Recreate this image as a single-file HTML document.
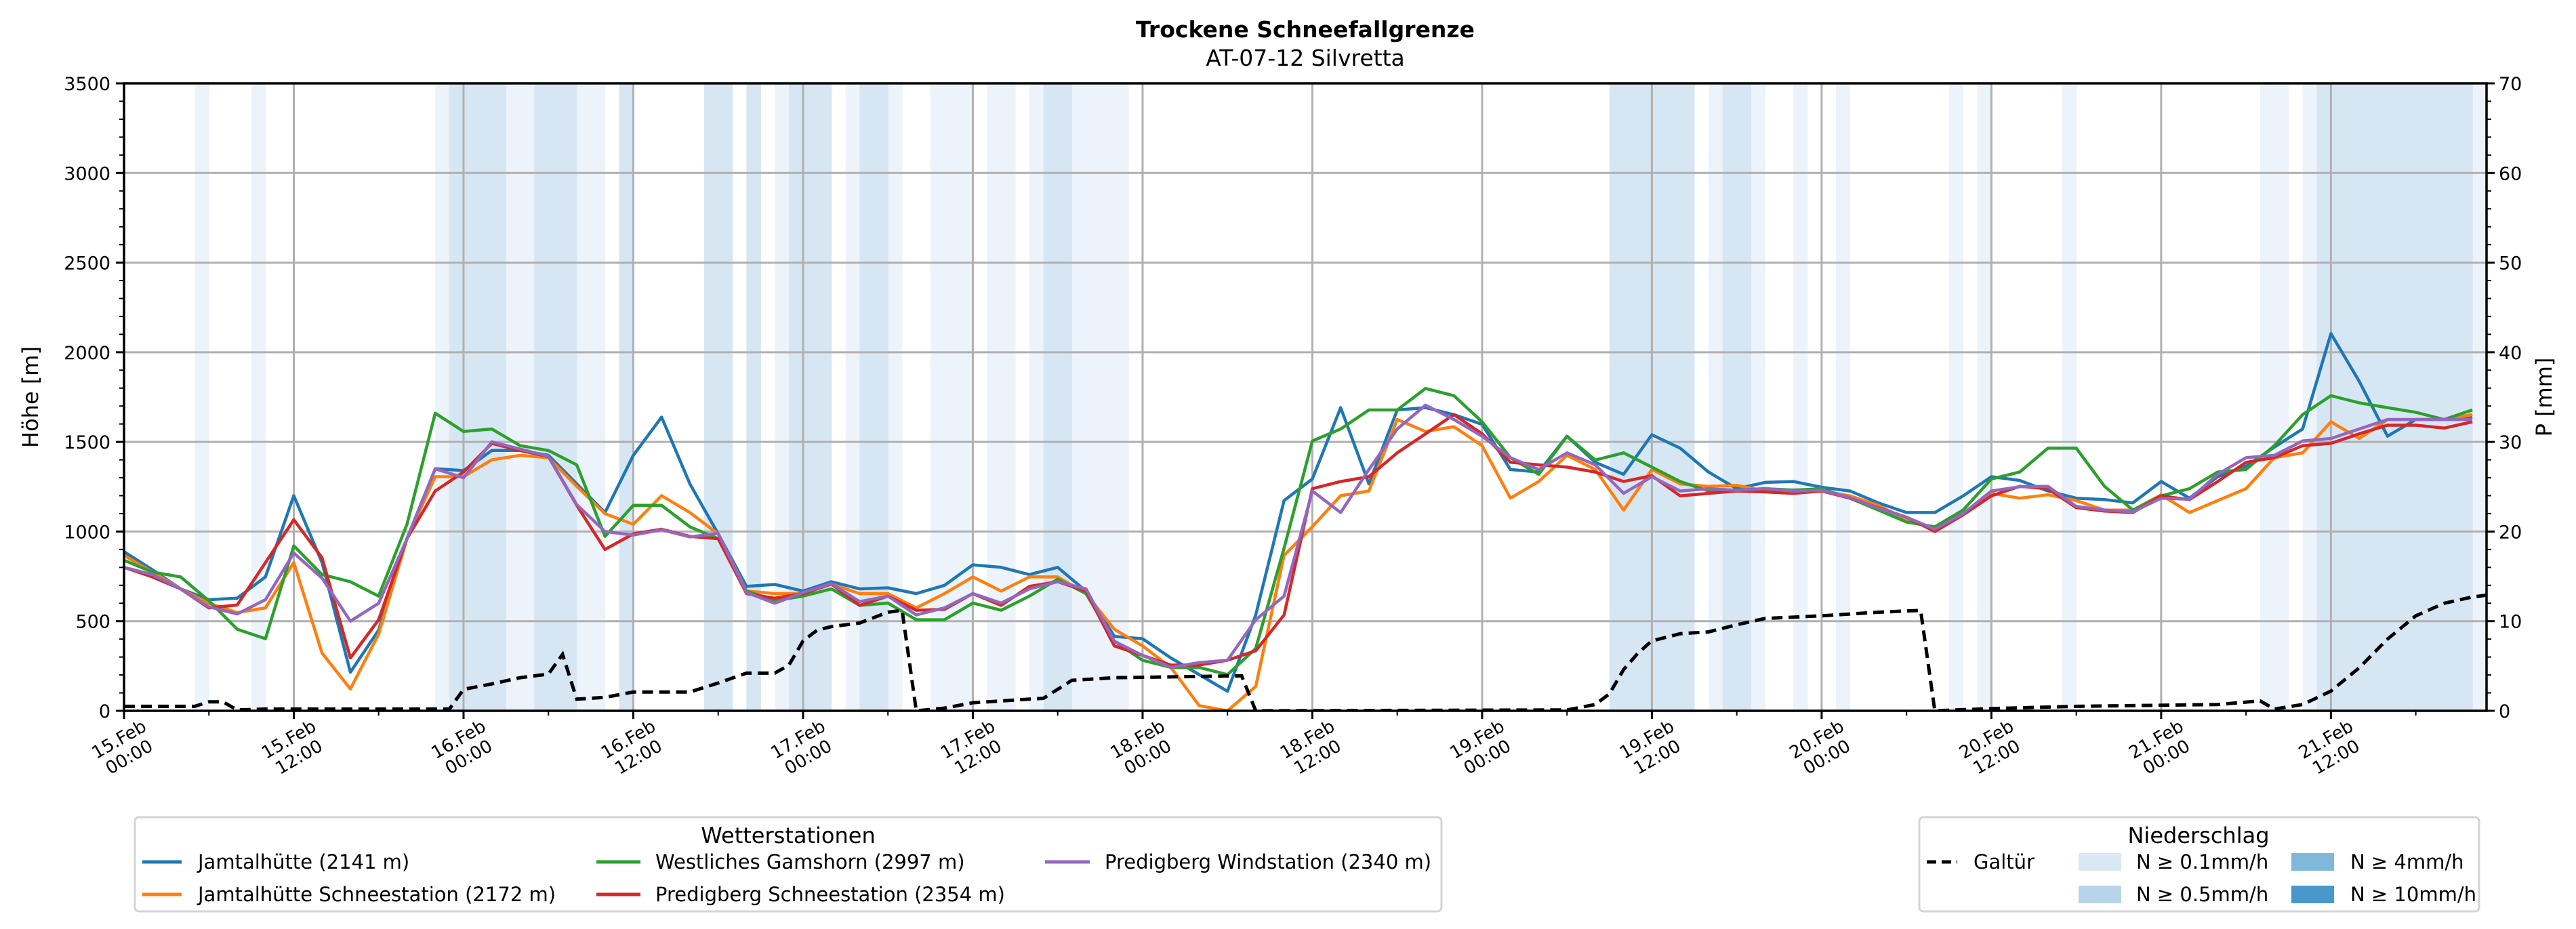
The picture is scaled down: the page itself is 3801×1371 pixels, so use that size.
<!DOCTYPE html>
<html><head><meta charset="utf-8">
<style>
html,body{margin:0;padding:0;background:#fff;}
svg{display:block;font-family:"DejaVu Sans","Liberation Sans",sans-serif;}
</style></head>
<body>
<svg id="chart" width="3801" height="1371" viewBox="0 0 3801 1371" xmlns="http://www.w3.org/2000/svg">
<text x="1926" y="55" text-anchor="middle" font-size="33" font-weight="bold">Trockene Schneefallgrenze</text>
<text x="1926" y="97" text-anchor="middle" font-size="33">AT-07-12 Silvretta</text>
<g id="bands"></g>
<g id="grid"></g>
<g id="series"></g>
<g id="axes"></g>
<text transform="translate(56,586) rotate(-90)" text-anchor="middle" font-size="32">Höhe [m]</text>
<text transform="translate(3765,586) rotate(-90)" text-anchor="middle" font-size="32">P [mm]</text>

<g>
<rect x="199" y="1206" width="1928" height="139" rx="6" fill="#fff" stroke="#d4d4d4" stroke-width="3"/>
<text x="1163" y="1244" text-anchor="middle" font-size="32">Wetterstationen</text>
<g><line x1="210" y1="1272" x2="268" y2="1272" stroke="#1f77b4" stroke-width="5"/><text x="292" y="1282" font-size="29">Jamtalhütte (2141 m)</text></g>
<g><line x1="210" y1="1320" x2="268" y2="1320" stroke="#ff7f0e" stroke-width="5"/><text x="292" y="1330" font-size="29">Jamtalhütte Schneestation (2172 m)</text></g>
<g><line x1="880" y1="1272" x2="945" y2="1272" stroke="#2ca02c" stroke-width="5"/><text x="967" y="1282" font-size="29">Westliches Gamshorn (2997 m)</text></g>
<g><line x1="880" y1="1320" x2="945" y2="1320" stroke="#d62728" stroke-width="5"/><text x="967" y="1330" font-size="29">Predigberg Schneestation (2354 m)</text></g>
<g><line x1="1542" y1="1272" x2="1608" y2="1272" stroke="#9467bd" stroke-width="5"/><text x="1630" y="1282" font-size="29">Predigberg Windstation (2340 m)</text></g>
</g>

<g>
<rect x="2832" y="1206" width="826" height="139" rx="6" fill="#fff" stroke="#d4d4d4" stroke-width="3"/>
<text x="3244" y="1244" text-anchor="middle" font-size="32">Niederschlag</text>
<g><line x1="2843" y1="1272" x2="2888" y2="1272" stroke="#000" stroke-width="5" stroke-dasharray="14,8"/><text x="2912" y="1282" font-size="29">Galtür</text></g>
<g><rect x="3067" y="1259" width="63" height="26" fill="#d9e8f5"/><text x="3152" y="1282" font-size="29">N ≥ 0.1mm/h</text></g>
<g><rect x="3067" y="1307" width="63" height="26" fill="#b8d4ea"/><text x="3152" y="1330" font-size="29">N ≥ 0.5mm/h</text></g>
<g><rect x="3381" y="1259" width="63" height="26" fill="#80b8da"/><text x="3468" y="1282" font-size="29">N ≥ 4mm/h</text></g>
<g><rect x="3381" y="1307" width="63" height="26" fill="#4a98c9"/><text x="3468" y="1330" font-size="29">N ≥ 10mm/h</text></g>
</g>
</svg>
<script>
const hours = [0,2,4,6,8,10,12,14,16,18,20,22,24,26,28,30,32,34,36,38,40,42,44,46,48,50,52,54,56,58,60,62,64,66,68,70,72,74,76,78,80,82,84,86,88,90,92,94,96,98,100,102,104,106,108,110,112,114,116,118,120,122,124,126,128,130,132,134,136,138,140,142,144,146,148,150,152,154,156,158,160,162,164,166];
const jamtal = [888,787,680,620,628,747,1200,827,215,450,960,1351,1340,1452,1452,1425,1266,1106,1425,1638,1266,987,694,705,668,720,680,686,654,700,814,800,760,800,668,415,402,295,202,109,535,1173,1293,1691,1266,1678,1691,1652,1598,1346,1332,1532,1386,1319,1540,1465,1332,1239,1274,1279,1247,1226,1160,1106,1106,1199,1306,1285,1226,1186,1178,1160,1279,1186,1306,1364,1471,1572,2104,1838,1532,1625,1625,1638];
const jamtalSchnee = [867,774,680,600,548,574,827,322,122,428,960,1306,1306,1400,1425,1412,1252,1100,1040,1200,1106,987,668,654,654,707,654,654,574,654,747,668,747,747,654,455,362,242,29,0,136,867,1027,1200,1226,1625,1558,1585,1479,1186,1279,1425,1346,1120,1346,1266,1252,1258,1226,1213,1226,1199,1146,1066,1013,1093,1213,1186,1205,1173,1120,1120,1205,1106,1173,1239,1412,1439,1612,1519,1625,1625,1625,1652];
const gamshorn = [840,774,747,614,455,402,920,760,720,640,1040,1660,1558,1572,1479,1452,1372,973,1146,1146,1026,960,668,614,640,680,588,601,508,508,601,561,640,734,654,388,282,242,242,202,348,907,1505,1572,1678,1678,1798,1758,1612,1412,1319,1532,1399,1439,1359,1279,1226,1231,1239,1231,1239,1186,1120,1053,1026,1120,1293,1332,1465,1465,1252,1120,1199,1239,1332,1346,1479,1652,1758,1718,1691,1665,1625,1678];
const predigSchnee = [800,747,680,574,590,827,1066,853,295,508,960,1226,1332,1492,1452,1418,1146,900,987,1013,973,960,654,628,654,707,588,640,561,566,654,588,694,720,668,362,309,255,255,282,335,535,1239,1279,1306,1439,1545,1652,1545,1386,1372,1359,1332,1279,1311,1199,1213,1226,1221,1213,1226,1186,1133,1080,1000,1093,1199,1252,1239,1133,1114,1106,1199,1178,1279,1386,1412,1479,1492,1545,1593,1593,1577,1612];
const predigWind = [800,760,680,580,540,620,880,740,500,600,960,1350,1300,1500,1460,1420,1150,1000,980,1010,970,990,660,600,660,710,609,640,535,574,654,601,680,720,680,388,309,242,269,282,508,640,1226,1106,1346,1572,1705,1625,1532,1412,1346,1439,1372,1213,1306,1226,1239,1230,1240,1225,1230,1190,1130,1080,1013,1100,1226,1250,1252,1140,1120,1110,1186,1180,1319,1412,1425,1505,1519,1572,1625,1625,1625,1625];
const galtuerHours = [0,5,6,7,8,10,23,24,26,28,30,31,32,34,36,40,42,44,46,47,48,49,50,52,54,55,56,58,60,64,65,67,70,79,80,102,104,105,106,107,108,110,112,114,116,120,124,127,128,132,138,148,151,152,154,156,158,160,162,164,166,167];
const galtuerMm = [0.5,0.5,1.0,1.0,0.1,0.2,0.2,2.4,3.0,3.7,4.1,6.3,1.3,1.5,2.1,2.1,3.1,4.2,4.2,5.1,7.8,9.0,9.4,9.8,11.0,11.2,0,0.3,0.9,1.3,1.4,3.4,3.7,3.9,0,0.1,0.7,1.9,4.6,6.4,7.8,8.6,8.8,9.6,10.3,10.6,11.0,11.2,0,0.25,0.5,0.7,1.1,0.2,0.7,2.2,4.8,8.0,10.6,12.0,12.7,12.9];
const lightHours = [5,9,22,27,28,32,33,46,51,54,57,58,59,61,62,64,67,68,69,70,112,115,118,121,129,131,137,151,152,154,166];
const mediumHours = [23,24,25,26,29,30,31,35,41,42,44,47,48,49,52,53,65,66,105,106,107,108,109,110,113,114,155,156,157,158,159,160,161,162,163,164,165];
const yTicks = [0,500,1000,1500,2000,2500,3000,3500];
const y2Ticks = [0,10,20,30,40,50,60,70];
const xTickDays = ["15.Feb","15.Feb","16.Feb","16.Feb","17.Feb","17.Feb","18.Feb","18.Feb","19.Feb","19.Feb","20.Feb","20.Feb","21.Feb","21.Feb"];
const xTickTimes = ["00:00","12:00","00:00","12:00","00:00","12:00","00:00","12:00","00:00","12:00","00:00","12:00","00:00","12:00"];

const L=183,R=3669,T=123,B=1049,HMAX=167,YMAX=3500,PMAX=70;
const X=h=>L+(h/HMAX)*(R-L);
const Y=v=>B-(v/YMAX)*(B-T);
const Y2=p=>B-(p/PMAX)*(B-T);
const NS="http://www.w3.org/2000/svg";
function mk(tag,attrs,parent){const e=document.createElementNS(NS,tag);for(const k in attrs)e.setAttribute(k,attrs[k]);parent.appendChild(e);return e;}
const bands=document.getElementById('bands'),grid=document.getElementById('grid'),series=document.getElementById('series'),axes=document.getElementById('axes');
const hw=X(1)-X(0);
lightHours.forEach(h=>{const r=mk('rect',{x:X(h),y:T,width:hw+0.5,height:B-T,fill:'#edf3fa'},bands);

});
mediumHours.forEach(h=>{const r=mk('rect',{x:X(h),y:T,width:hw+0.5,height:B-T,fill:'#d7e6f3'},bands);

});
yTicks.forEach(v=>{const l=mk('line',{x1:L,x2:R,y1:Y(v),y2:Y(v),stroke:'#b0b0b0','stroke-width':3},grid);

});
xTickDays.forEach((d,i)=>{const x=X(i*12);const l=mk('line',{x1:x,x2:x,y1:T,y2:B,stroke:'#b0b0b0','stroke-width':3},grid);

});
function path(xs,ys,fy){return xs.map((h,i)=>(i?'L':'M')+X(h).toFixed(1)+','+fy(ys[i]).toFixed(1)).join(' ');}
const clip=mk('clipPath',{id:'pc'},series);mk('rect',{x:L,y:T,width:R-L,height:B-T},clip);
const defs=[[jamtal,'#1f77b4','jamtalhuette-line'],[jamtalSchnee,'#ff7f0e','jamtalhuette-schnee-line'],[gamshorn,'#2ca02c','gamshorn-line'],[predigSchnee,'#d62728','predigberg-schnee-line'],[predigWind,'#9467bd','predigberg-wind-line']];
defs.forEach(([d,c,n])=>{const p=mk('path',{d:path(hours,d,Y),fill:'none',stroke:c,'stroke-width':4.5,'stroke-linejoin':'round','clip-path':'url(#pc)'},series);

});
const gp=mk('path',{d:path(galtuerHours,galtuerMm,Y2),fill:'none',stroke:'#000','stroke-width':5,'stroke-dasharray':'16,9','clip-path':'url(#pc)'},series);


mk('rect',{x:L,y:T,width:R-L,height:B-T,fill:'none',stroke:'#000','stroke-width':3.5},axes);
for(let v=0;v<=YMAX;v+=100){const maj=v%500===0;mk('line',{x1:L,x2:L-(maj?12:7),y1:Y(v),y2:Y(v),stroke:'#000','stroke-width':maj?3:2},axes);}
for(let p=0;p<=PMAX;p+=2){const maj=p%10===0;mk('line',{x1:R,x2:R+(maj?12:7),y1:Y2(p),y2:Y2(p),stroke:'#000','stroke-width':maj?3:2},axes);}
for(let h=0;h<=HMAX;h+=6){const maj=h%12===0;mk('line',{x1:X(h),x2:X(h),y1:B,y2:B+(maj?12:7),stroke:'#000','stroke-width':maj?3:2},axes);}
yTicks.forEach(v=>{const t=mk('text',{x:L-20,y:Y(v)+10,'text-anchor':'end','font-size':27},axes);t.textContent=v;

});
y2Ticks.forEach(v=>{const t=mk('text',{x:R+18,y:Y2(v)+10,'font-size':27},axes);t.textContent=v;

});
xTickDays.forEach((d,i)=>{const g=mk('g',{transform:`translate(${X(i*12)},1104) rotate(-30)`},axes);


const t1=mk('text',{x:0,y:-6,'text-anchor':'middle','font-size':26},g);t1.textContent=d;
const t2=mk('text',{x:0,y:24,'text-anchor':'middle','font-size':26},g);t2.textContent=xTickTimes[i];});
</script>
</body></html>
